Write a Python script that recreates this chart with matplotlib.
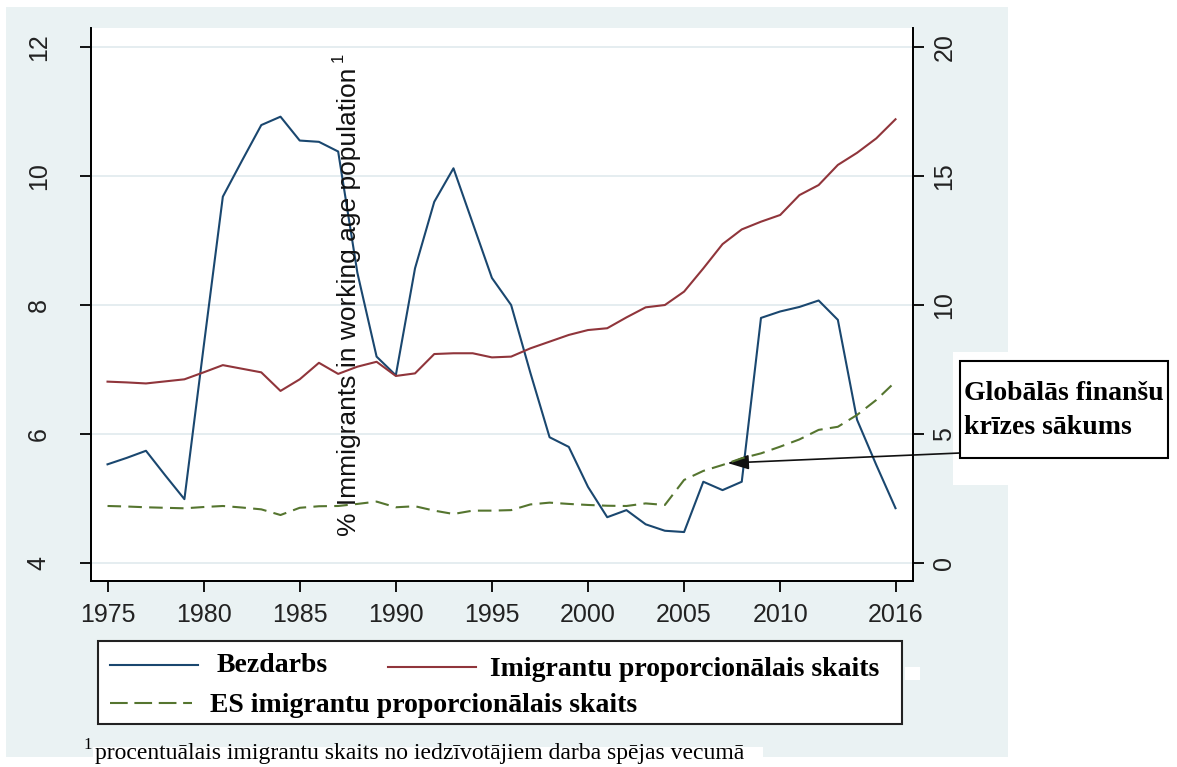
import numpy as np
import matplotlib
matplotlib.use('Agg')
import matplotlib.pyplot as plt
from matplotlib.patches import Rectangle
from matplotlib.lines import Line2D

#- data
years = list(range(1975, 2017))
bezdarbs = [5.53, 5.63, 5.74, 5.36, 4.99, 7.35, 9.68, 10.24, 10.79, 10.92,
            10.55, 10.53, 10.38, 8.5, 7.2, 6.91, 8.57, 9.6, 10.12, 9.27,
            8.42, 8.0, 6.95, 5.95, 5.8, 5.18, 4.71, 4.82, 4.6, 4.5,
            4.48, 5.26, 5.13, 5.26, 7.8, 7.9, 7.97, 8.07, 7.77, 6.22,
            5.52, 4.85]
imigranti = [7.03, 7.0, 6.96, 7.04, 7.12, 7.39, 7.67, 7.53, 7.39, 6.67,
             7.12, 7.76, 7.33, 7.61, 7.8, 7.25, 7.35, 8.1, 8.13, 8.13,
             7.97, 8.0, 8.32, 8.58, 8.84, 9.03, 9.1, 9.52, 9.91, 10.0,
             10.52, 11.42, 12.36, 12.93, 13.23, 13.49, 14.26, 14.65, 15.43, 15.9,
             16.46, 17.2]
es_imigranti = [2.21, 2.19, 2.16, 2.14, 2.12, 2.17, 2.21, 2.15, 2.08, 1.86,
                2.14, 2.2, 2.21, 2.29, 2.38, 2.16, 2.2, 2.03, 1.9, 2.03,
                2.03, 2.05, 2.27, 2.34, 2.29, 2.25, 2.22, 2.21, 2.31, 2.25,
                3.22, 3.57, 3.8, 4.06, 4.25, 4.51, 4.79, 5.16, 5.28, 5.74,
                6.32, 7.03]
xticks = [1975, 1980, 1985, 1990, 1995, 2000, 2005, 2010, 2016]
lticks = [4, 6, 8, 10, 12]
rticks = [0, 5, 10, 15, 20]

W, H = 1177, 767
def fx(x): return x / W
def fy(y): return 1 - y / H

c_blue = '#1a476f'
c_red = '#90353b'
c_green = '#55752f'
bg = '#eaf2f3'
sans = 'Liberation Sans'
serif = 'Liberation Serif'

fig = plt.figure(figsize=(W/100, H/100), dpi=100)
fig.patch.set_facecolor('white')

# Stata-like graph region
fig.patches.append(Rectangle((fx(6), fy(757)), fx(1008-6), (757-7)/H,
                             transform=fig.transFigure, facecolor=bg, edgecolor='none', zorder=0))
# white patches of the pasted pieces
fig.patches.append(Rectangle((fx(953), fy(485)), fx(1008-953), (485-352)/H,
                             transform=fig.transFigure, facecolor='white', edgecolor='none', zorder=0.5))
fig.patches.append(Rectangle((fx(905), fy(680)), fx(15), 13/H,
                             transform=fig.transFigure, facecolor='white', edgecolor='none', zorder=0.5))
fig.patches.append(Rectangle((fx(93), fy(767)), fx(763-93), 20/H,
                             transform=fig.transFigure, facecolor='white', edgecolor='none', zorder=0.5))

ax = fig.add_axes([fx(91), fy(581), fx(913-91), (581-28)/H])
ax.set_facecolor('white')
ax2 = ax.twinx()
ax.set_zorder(1)
ax2.set_zorder(1.1)

ax.set_xlim(1974.14, 2016.91)
ylo, yhi = 3.721, 12.295
ax.set_ylim(ylo, yhi)
ax2.set_ylim((ylo-4)*2.5, (yhi-4)*2.5)

ax.yaxis.grid(True, color='#e3ecef', lw=1.3)
ax.set_axisbelow(True)

ax.plot(years, bezdarbs, color=c_blue, lw=1.5, zorder=3)
ax2.plot(years, imigranti, color=c_red, lw=1.5)
ax2.plot(years, es_imigranti, color=c_green, lw=1.5, dashes=(6.5, 3.5))

for a in (ax, ax2):
    a.spines['top'].set_visible(False)
    for s in ('left', 'right', 'bottom'):
        a.spines[s].set_linewidth(1.3)
        a.spines[s].set_color('black')

ax.set_xticks(xticks)
ax.set_xticklabels([str(t) for t in xticks], fontsize=18, family=sans, color='#222222')
ax.tick_params(axis='x', length=8, width=1.3, pad=8)
ax.set_yticks(lticks)
ax.set_yticklabels([str(t) for t in lticks], fontsize=18, family=sans, color='#222222',
                   rotation=90, va='center')
ax.tick_params(axis='y', length=8, width=1.3, pad=21)
ax2.set_yticks(rticks)
ax2.set_yticklabels([str(t) for t in rticks], fontsize=18, family=sans, color='#222222',
                    rotation=90, va='center')
ax2.tick_params(axis='y', length=8, width=1.3, pad=6)

# axis title placed inside the plot, as in the original
fig.text(fx(349), fy(302), '% Immigrants in working age population', rotation=90,
         ha='center', va='center', fontsize=19, family=sans, color='#111111', zorder=5)
fig.text(fx(338), fy(57), '1', rotation=90, ha='center', va='center',
         fontsize=12, family=sans, color='#111111', zorder=5)

# annotation
ax.annotate('', xy=(2007.26, 5.55), xytext=(fx(960), fy(453)), textcoords='figure fraction',
            arrowprops=dict(arrowstyle='-|>,head_length=1.3,head_width=0.45', color='#111111',
                            lw=1.2, shrinkA=0, shrinkB=0, mutation_scale=10),
            annotation_clip=False)
fig.patches.append(Rectangle((fx(960), fy(458)), fx(1168-960), (458-361)/H,
                             transform=fig.transFigure, facecolor='white', edgecolor='black',
                             lw=1.5, zorder=2))
fig.text(fx(964), fy(393), 'Globālās finanšu', ha='left', va='center', fontsize=20,
         family=serif, weight='bold', zorder=3)
fig.text(fx(964), fy(428), 'krīzes sākums', ha='left', va='center', fontsize=20,
         family=serif, weight='bold', zorder=3)

# legend
fig.patches.append(Rectangle((fx(98), fy(724)), fx(902-98), (724-641)/H,
                             transform=fig.transFigure, facecolor='white', edgecolor='#222222',
                             lw=1.5, zorder=2))
keys = [((110, 198), 665, c_blue, None, 'Bezdarbs', 217, 665),
        ((388, 476), 667, c_red, None, 'Imigrantu proporcionālais skaits', 490, 669),
        ((110, 192), 703, c_green, (8.5, 3.2), 'ES imigrantu proporcionālais skaits', 210, 705)]
for (x0, x1), yk, col, dsh, lab, xt, yt in keys:
    ln = Line2D([fx(x0), fx(x1)], [fy(yk), fy(yk)], transform=fig.transFigure,
                color=col, lw=1.5, zorder=3)
    if dsh:
        ln.set_dashes(dsh)
    fig.lines.append(ln)
    fig.text(fx(xt), fy(yt), lab, ha='left', va='center', fontsize=20, family=serif,
             weight='bold', zorder=3)

# footnote
fig.text(fx(83), fy(745), '1', ha='left', va='center', fontsize=12, family=serif, zorder=3)
fig.text(fx(95), fy(753), 'procentuālais imigrantu skaits no iedzīvotājiem darba spējas vecumā',
         ha='left', va='center', fontsize=17, family=serif, zorder=3)

plt.savefig('out.png', dpi=100)
